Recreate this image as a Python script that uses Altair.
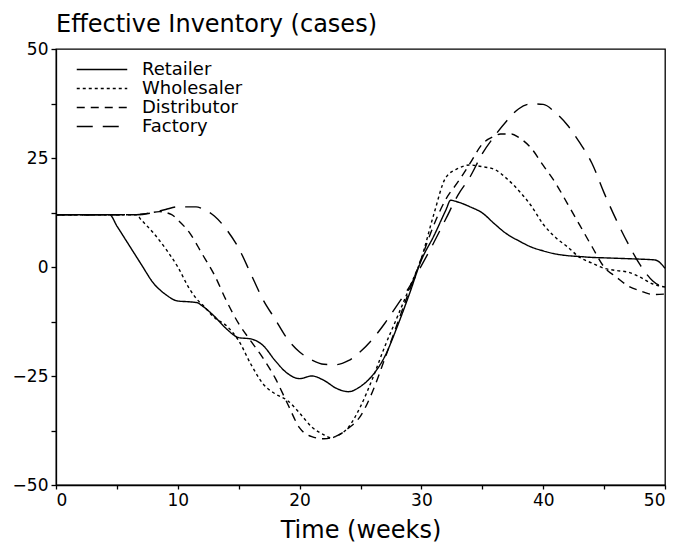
import altair as alt
import pandas as pd

series = ["Retailer", "Wholesaler", "Distributor", "Factory"]

retailer_t = [0, 4.4, 5, 6, 7, 8, 9, 10, 11, 11.6, 12, 13, 14, 15, 16, 17, 18, 19, 20, 21, 22, 23, 24, 25,
              26, 27, 28, 29, 30, 31, 32, 32.4, 33, 34, 35, 36, 37, 38, 39, 40, 41, 42, 43, 44, 45, 46, 47,
              48, 49.2, 50]
retailer_v = [12, 12, 9.4, 5.0, 0.6, -3.7, -6.3, -7.8, -8.0, -8.2, -8.9, -11.3, -14.2, -16.2, -16.5, -18.0,
              -21.5, -24.4, -25.6, -25.0, -26.0, -27.8, -28.6, -27.4, -24.8, -20.5, -13.8, -6.3, 1.6, 7.0,
              13.0, 15.3, 14.9, 13.8, 12.4, 9.9, 7.6, 6.0, 4.6, 3.7, 3.0, 2.6, 2.4, 2.2, 2.1, 2.0, 1.9, 1.8,
              1.6, -0.3]

wholesaler_t = [0, 6.6, 7, 8, 9, 10, 11, 11.8, 12, 13, 14, 15, 16, 17, 18, 19, 20, 21, 22, 22.6, 23, 24,
                25, 26, 27, 28, 29, 30, 31, 32, 33, 34, 35, 36, 37, 38, 39, 40, 41, 42, 43, 44, 45, 46, 47,
                48, 49, 50]
wholesaler_v = [12, 12, 10.8, 7.8, 4.2, 0.0, -5.2, -8.1, -8.6, -11.6, -13.5, -16.9, -22.3, -26.8, -29.1,
                -30.6, -33.5, -36.7, -38.5, -39.2, -38.8, -36.8, -32.0, -25.5, -18.2, -11.6, -4.9, 2.0,
                11.9, 20.5, 22.6, 23.4, 23.0, 22.4, 20.3, 17.5, 14.1, 9.8, 6.8, 4.6, 2.2, 0.9, -0.3, -0.8,
                -1.2, -2.4, -3.9, -4.6]

distributor_t = [0, 6.6, 7.5, 8.5, 9.5, 10, 11, 12, 13, 14, 15, 16, 17, 18, 19, 20, 21, 22, 23, 24, 25, 26,
                 27, 28, 29, 30, 31, 32, 33, 34, 35, 36, 36.5, 37.4, 38, 39, 40, 41, 42, 43, 44, 45, 46, 47,
                 48, 49, 50]
distributor_v = [12, 12, 12.3, 12.7, 12.0, 10.8, 7.7, 3.0, -1.8, -7.8, -13.0, -17.0, -20.9, -25.5, -31.3,
                 -36.9, -38.9, -39.4, -38.8, -37.0, -34.2, -28.5, -21.0, -13.2, -5.5, 2.0, 9.5, 15.5, 19.5,
                 23.8, 28.2, 30.0, 30.5, 30.5, 29.7, 27.3, 23.3, 19.3, 14.5, 9.6, 4.7, 0.0, -2.3, -4.4,
                 -5.5, -6.3, -6.2]

factory_t = [0, 6.6, 8, 9, 10, 11.5, 12, 13, 14, 15, 16, 17, 18, 19, 20, 21, 22, 23, 24, 25, 26, 27, 28, 29,
             30, 31, 32, 33, 34, 35, 36, 37, 38, 39, 40, 41, 42, 43, 44, 45, 46, 47, 48, 49, 50]
factory_v = [12, 12, 12.5, 13.2, 13.8, 13.8, 13.4, 11.7, 8.6, 4.3, -1.6, -7.5, -12.0, -16.5, -19.5, -21.3,
             -22.3, -22.4, -21.5, -19.4, -16.5, -12.9, -8.8, -4.6, 0.3, 5.5, 11.0, 16.5, 20.7, 26.0, 30.0,
             33.5, 36.3, 37.4, 37.3, 35.4, 32.5, 28.5, 23.8, 17.0, 10.8, 5.2, 0.3, -3.2, -4.8]

dash_styles = [[1, 0], [3, 3], [8, 6], [16, 10]]

rows = []
for name, ts, vs in [("Retailer", retailer_t, retailer_v), ("Wholesaler", wholesaler_t, wholesaler_v),
                     ("Distributor", distributor_t, distributor_v), ("Factory", factory_t, factory_v)]:
    for t, v in zip(ts, vs):
        rows.append({"series": name, "time": t, "value": v})
df = pd.DataFrame(rows)

x_ticks = list(range(0, 51, 5))
y_ticks = [-50, -37.5, -25, -12.5, 0, 12.5, 25, 37.5, 50]

font = "DejaVu Sans"

chart = alt.Chart(df).mark_line(color="black", strokeWidth=1.4, interpolate="monotone").encode(
    x=alt.X("time:Q", scale=alt.Scale(domain=[0, 50], nice=False),
            axis=alt.Axis(values=x_ticks, title="Time (weeks)",
                          labelExpr="datum.value % 10 == 0 ? datum.label : ''")),
    y=alt.Y("value:Q", scale=alt.Scale(domain=[-50, 50], nice=False),
            axis=alt.Axis(values=y_ticks, title=None,
                          labelExpr="datum.value % 25 == 0 ? datum.label : ''")),
    strokeDash=alt.StrokeDash("series:N", scale=alt.Scale(domain=series, range=dash_styles),
                              legend=alt.Legend(title=None, orient="none", legendX=20, legendY=11,
                                                symbolType="stroke", symbolSize=2550,
                                                symbolStrokeColor="black", symbolStrokeWidth=1.3,
                                                labelFont=font, labelFontSize=18, labelColor="black",
                                                labelOffset=14, rowPadding=0, clipHeight=19)),
    detail="series:N",
).properties(
    width=609, height=436,
    title=alt.TitleParams("Effective Inventory (cases)", anchor="start", frame="group", font=font,
                          fontSize=24, fontWeight="normal", color="black", offset=3),
    padding={"left": 56, "top": 49, "right": 10, "bottom": 62},
    autosize=alt.AutoSizeParams(type="none"),
    background="white",
).configure_view(
    stroke="black", strokeWidth=1.3
).configure_axis(
    grid=False, domainColor="black", tickColor="black", tickSize=5, labelFont=font, labelFontSize=17,
    labelColor="black", titleFont=font, titleFontSize=24, titleFontWeight="normal", titleColor="black",
    labelPadding=3, domainWidth=1.3, tickWidth=1.3
).configure_axisX(titlePadding=10, tickSize=4, labelPadding=3)

chart.save("out.html", embed_options={"renderer": "svg", "actions": False})
